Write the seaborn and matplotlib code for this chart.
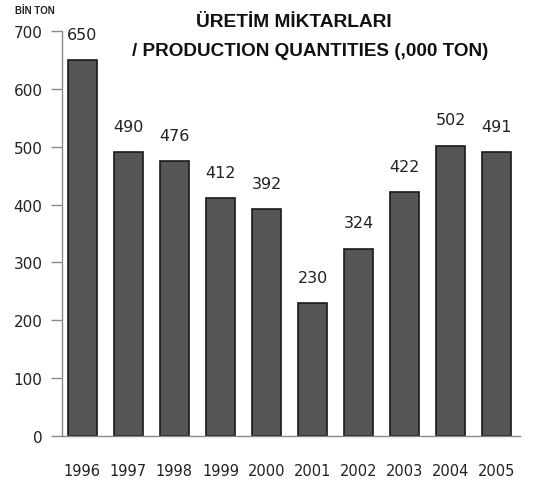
import matplotlib
matplotlib.use("Agg")
import matplotlib.pyplot as plt
import pandas as pd
import seaborn as sns

# data
years = ["1996", "1997", "1998", "1999", "2000", "2001", "2002", "2003", "2004", "2005"]
quantities = [650, 490, 476, 412, 392, 230, 324, 422, 502, 491]
y_ticks = [0, 100, 200, 300, 400, 500, 600, 700]


def draw():
    data = pd.DataFrame({"year": years, "quantity": quantities})

    sns.set_style("white")
    plt.rcParams["font.family"] = ["DejaVu Sans"]

    fig = plt.figure(figsize=(5.6, 4.89), dpi=100)
    ax = fig.add_axes([0.1107, 0.1063, 0.8179, 0.8283])

    sns.barplot(data=data, x="year", y="quantity", color="#555555",
                edgecolor="#1a1a1a", linewidth=1.2, width=0.63,
                saturation=1, ax=ax)

    # value labels above bars
    for p in ax.patches:
        ax.annotate(f"{p.get_height():.0f}",
                    (p.get_x() + p.get_width() / 2., p.get_height()),
                    xytext=(0, 13), textcoords="offset points",
                    ha="center", va="bottom", fontsize=11.5, color="#222222")

    ax.set_ylim(0, 700)
    ax.set_xlim(-0.44, 9.5)
    ax.set_yticks(y_ticks)
    ax.set_xlabel("")
    ax.set_ylabel("")

    sns.despine(ax=ax, top=True, right=True)
    for side in ["left", "bottom"]:
        ax.spines[side].set_color("#8a8a8a")
        ax.spines[side].set_linewidth(1.0)

    ax.tick_params(axis="y", which="both", left=True, length=8, width=1,
                   color="#8a8a8a", pad=6, labelsize=11, labelcolor="#222222")
    ax.tick_params(axis="x", bottom=False, pad=16, labelsize=10.5,
                   labelcolor="#222222")

    # titles
    fig.text(0.525, 0.955, "ÜRETİM MİKTARLARI", ha="center", va="center",
             fontsize=13.8, fontweight="bold", family="Liberation Sans",
             color="#111111")
    fig.text(0.554, 0.894, "/ PRODUCTION QUANTITIES (,000 TON)", ha="center",
             va="center", fontsize=13.6, fontweight="bold",
             family="Liberation Sans", color="#111111")
    fig.text(0.027, 0.978, "BİN TON", ha="left", va="center",
             fontsize=7, fontweight="bold", family="Liberation Sans",
             color="#222222")

    plt.savefig("out.png", dpi=100)


if __name__ == "__main__":
    draw()
